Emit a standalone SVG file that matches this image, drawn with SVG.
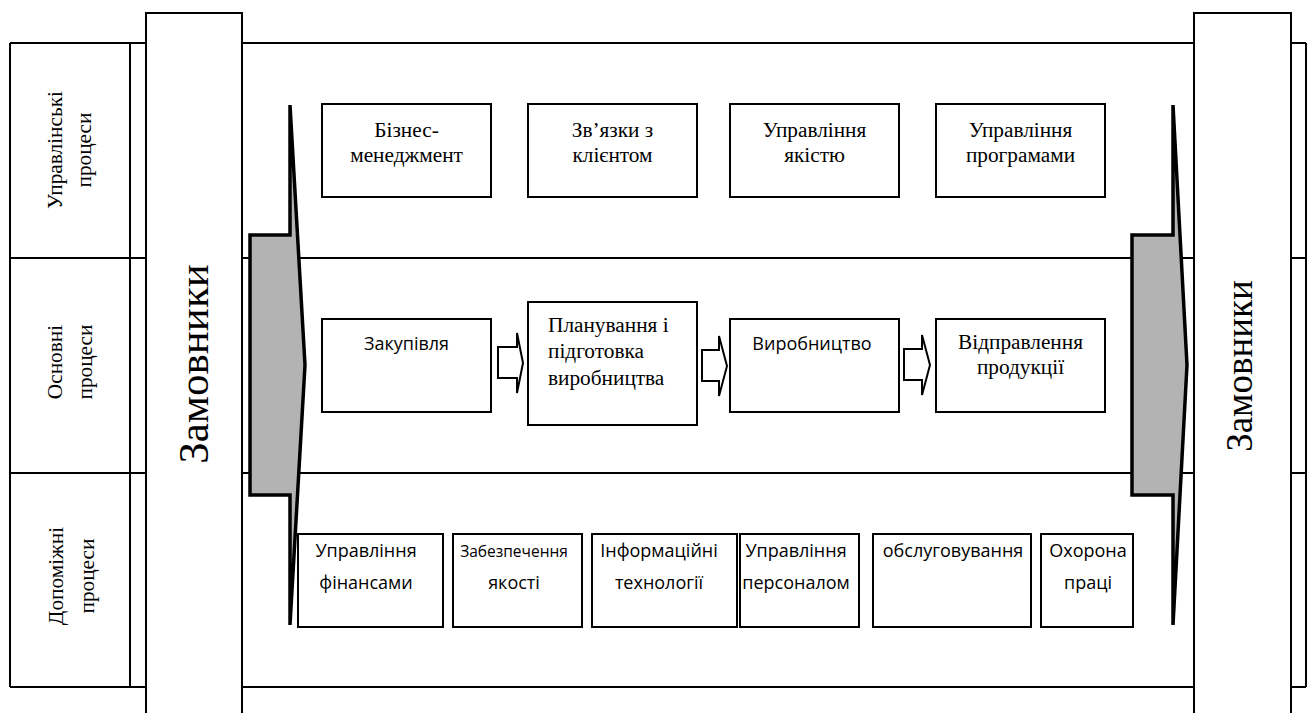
<svg xmlns="http://www.w3.org/2000/svg" width="1312" height="713" viewBox="0 0 1312 713">
<style>
.ln{stroke:#000;stroke-width:2;fill:none}
.box{fill:#fff;stroke:#000;stroke-width:2}
.chev{fill:#b3b3b3;stroke:#000;stroke-width:3.5;stroke-linejoin:miter;stroke-miterlimit:1.5}
.arr{fill:#fff;stroke:#000;stroke-width:2;stroke-linejoin:miter;stroke-miterlimit:2}
.tr{font-family:'Liberation Serif','Times New Roman','DejaVu Serif',serif;font-size:21.3px;fill:#000}
.sa{font-family:'Open Sans','Noto Sans',sans-serif;font-size:18px;fill:#000}
.c{text-anchor:middle}
</style>
<g id="frame">
<line class="ln" x1="10" y1="43" x2="1306" y2="43"/>
<line class="ln" x1="10" y1="258" x2="1306" y2="258"/>
<line class="ln" x1="10" y1="473" x2="1306" y2="473"/>
<line class="ln" x1="10" y1="687" x2="1306" y2="687"/>
<line class="ln" x1="10" y1="43" x2="10" y2="687"/>
<line class="ln" x1="130" y1="43" x2="130" y2="687"/>
<line class="ln" x1="1306" y1="43" x2="1306" y2="687"/>
</g>
<g id="row-labels">
<text class="tr c" transform="translate(62,150) rotate(-90)">Управлінські</text>
<text class="tr c" transform="translate(91,150) rotate(-90)">процеси</text>
<text class="tr c" transform="translate(62,362) rotate(-90)">Основні</text>
<text class="tr c" transform="translate(92,362) rotate(-90)">процеси</text>
<text class="tr c" transform="translate(63,576) rotate(-90)">Допоміжні</text>
<text class="tr c" transform="translate(94,576) rotate(-90)">процеси</text>
</g>
<g id="customers-left">
<rect class="box" x="146" y="13" width="96" height="710"/>
<text class="tr c" style="font-size:43px" transform="translate(208,364) rotate(-90)">Замовники</text>
</g>
<g id="customers-right">
<rect class="box" x="1194" y="13" width="97" height="710"/>
<text class="tr c" style="font-size:37px" transform="translate(1252,366) rotate(-90)">Замовники</text>
</g>
<g id="chevron-left">
<polygon class="chev" points="250,235 290,235 290,105 305,365 290,625 290,495 250,495"/>
</g>
<g id="chevron-right">
<polygon class="chev" points="1132,235 1173,235 1173,105 1187,365 1173,625 1173,495 1132,495"/>
</g>
<g id="mgmt-business">
<rect class="box" x="322" y="104" width="169" height="93"/>
<text class="tr c" x="406.5" y="137">Бізнес-</text>
<text class="tr c" x="406.5" y="162">менеджмент</text>
</g>
<g id="mgmt-client">
<rect class="box" x="528" y="104" width="169" height="93"/>
<text class="tr c" x="612.5" y="137">Зв’язки з</text>
<text class="tr c" x="612.5" y="162">клієнтом</text>
</g>
<g id="mgmt-quality">
<rect class="box" x="730" y="104" width="169" height="93"/>
<text class="tr c" x="814.5" y="137">Управління</text>
<text class="tr c" x="814.5" y="162">якістю</text>
</g>
<g id="mgmt-programs">
<rect class="box" x="936" y="104" width="169" height="93"/>
<text class="tr c" x="1020.5" y="137">Управління</text>
<text class="tr c" x="1020.5" y="162">програмами</text>
</g>
<g id="main-purchase">
<rect class="box" x="322" y="319" width="169" height="93"/>
<text class="sa c" x="406.5" y="350">Закупівля</text>
</g>
<g id="main-planning">
<rect class="box" x="528" y="302" width="169" height="123"/>
<text class="tr" x="548" y="332">Планування і</text>
<text class="tr" x="548" y="358">підготовка</text>
<text class="tr" x="548" y="385">виробництва</text>
</g>
<g id="main-production">
<rect class="box" x="730" y="319" width="169" height="93"/>
<text class="sa c" x="812" y="350">Виробництво</text>
</g>
<g id="main-shipping">
<rect class="box" x="936" y="319" width="169" height="93"/>
<text class="tr c" x="1020.5" y="349">Відправлення</text>
<text class="tr c" x="1020.5" y="374">продукції</text>
</g>
<g id="connectors">
<polygon class="arr" points="498,347 517,347 517,333 523,363 517,393 517,378 498,378"/>
<polygon class="arr" points="702,350 719,350 719,336 727,366 719,396 719,381 702,381"/>
<polygon class="arr" points="904,349 922,349 922,335 930,365 922,395 922,380 904,380"/>
</g>
<g id="sup-finance">
<rect class="box" x="298" y="534" width="145" height="93"/>
<text class="sa c" x="366" y="557">Управління</text>
<text class="sa c" x="366" y="589">фінансами</text>
</g>
<g id="sup-quality">
<rect class="box" x="453" y="534" width="129" height="93"/>
<text class="sa c" style="font-size:15.5px" x="514" y="557">Забезпечення</text>
<text class="sa c" x="514" y="589">якості</text>
</g>
<g id="sup-it">
<rect class="box" x="592" y="534" width="145" height="93"/>
<text class="sa c" x="659" y="557">Інформаційні</text>
<text class="sa c" x="659" y="589">технології</text>
</g>
<g id="sup-personnel">
<rect class="box" x="740" y="534" width="119" height="93"/>
<text class="sa c" x="796" y="557">Управління</text>
<text class="sa c" x="796" y="589">персоналом</text>
</g>
<g id="sup-service">
<rect class="box" x="873" y="534" width="158" height="93"/>
<text class="sa c" x="953" y="557">обслуговування</text>
</g>
<g id="sup-safety">
<rect class="box" x="1041" y="534" width="92" height="93"/>
<text class="sa c" x="1088" y="557">Охорона</text>
<text class="sa c" x="1088" y="589">праці</text>
</g>
</svg>
